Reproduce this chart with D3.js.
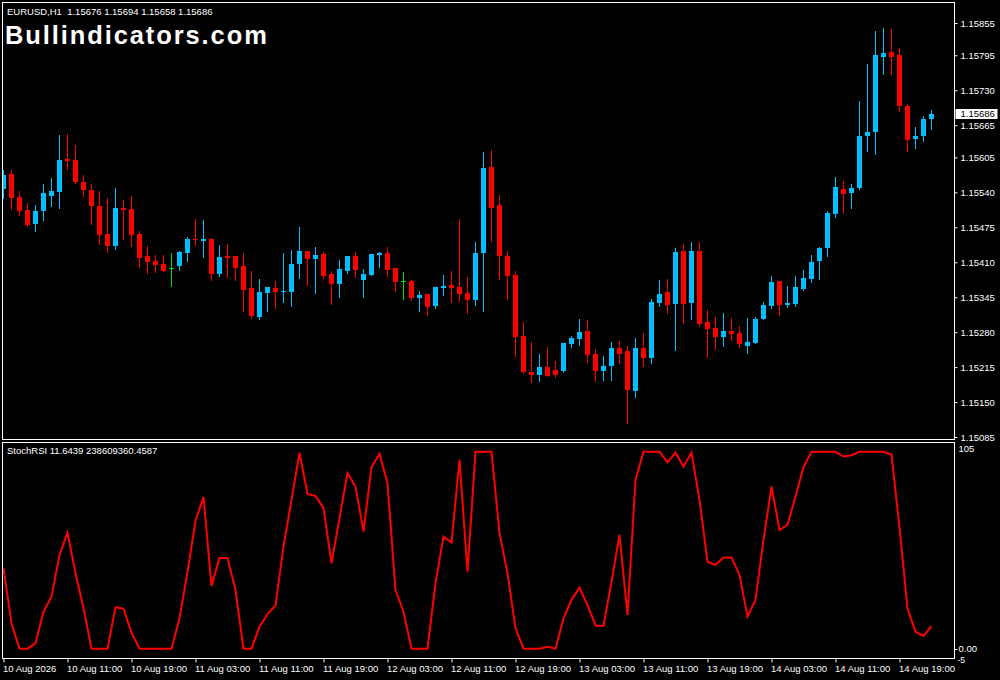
<!DOCTYPE html>
<html><head><meta charset="utf-8">
<script src="https://cdn.jsdelivr.net/npm/d3@7"></script>
<style>
html,body{margin:0;padding:0;background:#000;}
svg{display:block;}
text{font-family:"Liberation Sans",Arial,sans-serif;}
</style></head>
<body>
<script>
// ---- data (EURUSD H1, 117 bars) ----
const openP = [1.15547,1.15574,1.15532,1.15507,1.15482,1.15506,1.15533,1.15540,1.15602,1.15600,
1.15560,1.15545,1.15515,1.15463,1.15440,1.15511,1.15509,1.15463,1.15422,1.15413,
1.15407,1.15399,1.15403,1.15427,1.15453,1.15450,1.15453,1.15388,1.15422,1.15422,
1.15403,1.15362,1.15308,1.15353,1.15362,1.15355,1.15355,1.15407,1.15431,1.15416,
1.15426,1.15388,1.15370,1.15394,1.15422,1.15377,1.15387,1.15424,1.15427,1.15400,
1.15375,1.15375,1.15344,1.15351,1.15329,1.15362,1.15368,1.15364,1.15353,1.15340,
1.15427,1.15587,1.15517,1.15422,1.15387,1.15273,1.15206,1.15200,1.15215,1.15210,
1.15208,1.15258,1.15267,1.15282,1.15240,1.15208,1.15217,1.15251,1.15245,1.15171,
1.15251,1.15232,1.15334,1.15355,1.15333,1.15431,1.15334,1.15431,1.15299,1.15288,
1.15271,1.15282,1.15279,1.15254,1.15260,1.15305,1.15329,1.15375,1.15331,1.15333,
1.15360,1.15379,1.15413,1.15437,1.15500,1.15547,1.15539,1.15548,1.15645,1.15653,
1.15792,1.15801,1.15796,1.15701,1.15640,1.15645,1.15676];
const highP = [1.15582,1.15582,1.15543,1.15520,1.15517,1.15556,1.15566,1.15647,1.15649,1.15628,
1.15572,1.15556,1.15543,1.15530,1.15548,1.15526,1.15533,1.15468,1.15440,1.15424,
1.15424,1.15427,1.15431,1.15457,1.15491,1.15489,1.15455,1.15442,1.15444,1.15422,
1.15427,1.15394,1.15379,1.15364,1.15375,1.15427,1.15433,1.15476,1.15431,1.15439,
1.15429,1.15394,1.15414,1.15422,1.15429,1.15398,1.15426,1.15429,1.15439,1.15400,
1.15392,1.15377,1.15357,1.15351,1.15364,1.15387,1.15394,1.15491,1.15383,1.15448,
1.15615,1.15619,1.15535,1.15431,1.15394,1.15299,1.15262,1.15240,1.15253,1.15226,
1.15260,1.15273,1.15305,1.15303,1.15249,1.15236,1.15262,1.15264,1.15254,1.15269,
1.15279,1.15342,1.15377,1.15379,1.15437,1.15444,1.15448,1.15448,1.15321,1.15308,
1.15316,1.15307,1.15292,1.15307,1.15308,1.15336,1.15385,1.15375,1.15366,1.15385,
1.15396,1.15424,1.15439,1.15506,1.15569,1.15561,1.15556,1.15710,1.15779,1.15840,
1.15846,1.15844,1.15809,1.15705,1.15662,1.15682,1.15694];
const lowP = [1.15530,1.15509,1.15498,1.15478,1.15468,1.15489,1.15515,1.15510,1.15584,1.15557,
1.15533,1.15481,1.15444,1.15429,1.15435,1.15453,1.15440,1.15401,1.15390,1.15392,
1.15394,1.15366,1.15396,1.15413,1.15442,1.15420,1.15377,1.15385,1.15383,1.15377,
1.15320,1.15307,1.15305,1.15320,1.15325,1.15336,1.15329,1.15381,1.15368,1.15353,
1.15381,1.15333,1.15346,1.15390,1.15383,1.15346,1.15387,1.15401,1.15385,1.15357,
1.15342,1.15340,1.15320,1.15312,1.15325,1.15349,1.15336,1.15338,1.15316,1.15331,
1.15320,1.15450,1.15379,1.15342,1.15236,1.15204,1.15187,1.15189,1.15199,1.15197,
1.15206,1.15253,1.15256,1.15225,1.15189,1.15191,1.15191,1.15223,1.15111,1.15160,
1.15217,1.15223,1.15329,1.15316,1.15247,1.15297,1.15305,1.15292,1.15234,1.15249,
1.15254,1.15266,1.15253,1.15241,1.15260,1.15305,1.15325,1.15312,1.15327,1.15329,
1.15359,1.15373,1.15379,1.15422,1.15494,1.15502,1.15511,1.15547,1.15617,1.15612,
1.15760,1.15760,1.15692,1.15617,1.15623,1.15636,1.15658];
const closeP = [1.15572,1.15530,1.15506,1.15480,1.15506,1.15539,1.15543,1.15600,1.15599,1.15560,
1.15545,1.15515,1.15461,1.15440,1.15511,1.15507,1.15461,1.15418,1.15411,1.15405,
1.15394,1.15399,1.15429,1.15453,1.15452,1.15453,1.15388,1.15420,1.15418,1.15400,
1.15359,1.15310,1.15355,1.15364,1.15355,1.15357,1.15407,1.15431,1.15416,1.15424,
1.15385,1.15370,1.15398,1.15422,1.15396,1.15388,1.15426,1.15427,1.15396,1.15373,
1.15375,1.15344,1.15349,1.15327,1.15364,1.15366,1.15362,1.15351,1.15340,1.15427,
1.15585,1.15511,1.15422,1.15385,1.15271,1.15206,1.15200,1.15215,1.15199,1.15200,
1.15260,1.15269,1.15280,1.15238,1.15208,1.15217,1.15251,1.15240,1.15173,1.15251,
1.15232,1.15336,1.15351,1.15331,1.15429,1.15333,1.15431,1.15295,1.15286,1.15271,
1.15282,1.15277,1.15258,1.15262,1.15305,1.15331,1.15373,1.15331,1.15334,1.15364,
1.15381,1.15411,1.15437,1.15502,1.15550,1.15537,1.15548,1.15645,1.15653,1.15796,
1.15799,1.15792,1.15701,1.15638,1.15645,1.15677,1.15686];
const stochRSI = [40.9,12.9,0,0,2.7,18.8,26.4,47.6,59,38.3,
20.5,0,0,0,21,20.3,8.1,0,0,0,
0,0,15.4,39,65,77,31.9,46,46,29.8,
0,0,11.2,17.6,22,51.9,75.6,99.6,78.6,77.6,
71.4,43.4,66.3,89.2,82.4,59.5,92.2,99,84.1,29.8,
18.8,0,0,0,33.2,57,53.9,95.9,39.1,100,
100,100,58.7,38.3,10.4,0,0,0,1,0,
15.4,24.8,31,22.2,11.7,11.7,34,57.8,17.1,85.8,
100,100,100,94.6,99.6,92.5,99.6,75.6,44.2,42.6,
46.3,46.3,37.5,16.3,24.8,55.3,82.4,60.3,62.9,77.3,
92.2,100,100,100,100,97.6,98.3,100,100,100,
100,98.6,61.7,20.5,8.6,6.5,11.5];
const timeTickIdx = [0,8,16,24,32,40,48,56,64,72,80,88,96,104,112];
const timeLabels = ["10 Aug 2026","10 Aug 11:00","10 Aug 19:00","11 Aug 03:00","11 Aug 11:00","11 Aug 19:00",
"12 Aug 03:00","12 Aug 11:00","12 Aug 19:00","13 Aug 03:00","13 Aug 11:00","13 Aug 19:00",
"14 Aug 03:00","14 Aug 11:00","14 Aug 19:00"];
const priceTicks = [1.15855,1.15795,1.15730,1.15665,1.15605,1.15540,1.15475,1.15410,1.15345,1.15280,1.15215,1.15150,1.15085];
const lastPrice = 1.15686;
const titleText = "EURUSD,H1  1.15676 1.15694 1.15658 1.15686";
const indText = "StochRSI 11.6439 238609360.4587";
const brand = "Bullindicators.com";

// ---- layout ----
const W = 1000, H = 680;
const L = 2.5, R = 954.5, T1 = 2.5, B1 = 439.5, T2 = 442.5, B2 = 658.5;
const BULL = "#00BFFF", BEAR = "#FF0000", DOJI = "#00E000";

const svg = d3.select("body").append("svg").attr("width", W).attr("height", H);
svg.append("rect").attr("width", W).attr("height", H).attr("fill", "#000");

const defs = svg.append("defs");
defs.append("clipPath").attr("id","c1").append("rect").attr("x",L+0.5).attr("y",T1+0.5).attr("width",R-L-1).attr("height",B1-T1-1);
defs.append("clipPath").attr("id","c2").append("rect").attr("x",L+0.5).attr("y",T2+0.5).attr("width",R-L-1).attr("height",B2-T2-1);

const n = closeP.length;
const xS = d3.scaleLinear().domain([0, n-1]).range([3.5, 3.5 + 8*(n-1)]);
const yP = d3.scaleLinear().domain([1.15085, 1.15855]).range([437, 23]);
const yR = d3.scaleLinear().domain([-5, 105]).range([658.5, 442]);

const idx = d3.range(n);
const gC = svg.append("g").attr("clip-path","url(#c1)");
const col = i => closeP[i] > openP[i] ? BULL : (closeP[i] < openP[i] ? BEAR : DOJI);
gC.selectAll("line.w").data(idx).join("line").attr("class","w")
  .attr("x1", i => xS(i)).attr("x2", i => xS(i))
  .attr("y1", i => Math.round(yP(highP[i]))).attr("y2", i => Math.round(yP(lowP[i])) + 1)
  .attr("stroke", col).attr("stroke-width", 1);
gC.selectAll("rect.b").data(idx).join("rect").attr("class","b")
  .attr("x", i => xS(i) - 2.5).attr("width", 5)
  .attr("y", i => Math.round(yP(Math.max(openP[i], closeP[i]))))
  .attr("height", i => Math.max(1, Math.round(yP(Math.min(openP[i], closeP[i]))) - Math.round(yP(Math.max(openP[i], closeP[i])))))
  .attr("fill", col).attr("shape-rendering","crispEdges");

// stoch line
svg.append("g").attr("clip-path","url(#c2)").append("path")
  .datum(stochRSI)
  .attr("d", d3.line().x((d,i) => xS(i)).y(d => yR(d)))
  .attr("fill","none").attr("stroke","#FF0000").attr("stroke-width",2).attr("stroke-linejoin","miter");

// frames
const frame = svg.append("g").attr("fill","none").attr("stroke","#fff").attr("stroke-width",1).attr("shape-rendering","crispEdges");
frame.append("rect").attr("x",L).attr("y",T1).attr("width",R-L).attr("height",B1-T1);
frame.append("rect").attr("x",L).attr("y",T2).attr("width",R-L).attr("height",B2-T2);

// price axis
const fontSz = "9.5px";
const ay = svg.append("g").attr("transform",`translate(${R},0)`)
  .call(d3.axisRight(yP).tickValues(priceTicks).tickSize(3).tickSizeOuter(0).tickFormat(d3.format(".5f")));
ay.select(".domain").remove();
ay.selectAll("line").attr("stroke","#fff");
ay.selectAll("text").attr("fill","#fff").style("font-size",fontSz).style("font-family","Liberation Sans, Arial, sans-serif");

// current price label
const cy = yP(lastPrice);
svg.append("rect").attr("x",R+1).attr("y",Math.round(cy)-5).attr("width",42).attr("height",10).attr("fill","#fff");
svg.append("text").attr("x",R+6).attr("y",cy+3.5).attr("fill","#000").style("font-size",fontSz).text(d3.format(".5f")(lastPrice));

// indicator axis labels
const ind = svg.append("g").attr("fill","#fff").style("font-size",fontSz);
ind.append("text").attr("x",R+4).attr("y",yR(105)+10).text("105");
ind.append("text").attr("x",R+4).attr("y",yR(0)+3.5).text("0.00");
ind.append("text").attr("x",R+3).attr("y",yR(-5)+4).style("font-size","8.5px").text("-5");
svg.append("line").attr("x1",R).attr("x2",R+3).attr("y1",Math.round(yR(0))+0.5).attr("y2",Math.round(yR(0))+0.5).attr("stroke","#fff");

// time axis
const ax = svg.append("g").attr("transform",`translate(0,${B2})`)
  .call(d3.axisBottom(xS).tickValues(timeTickIdx).tickSize(4).tickSizeOuter(0).tickFormat((d,i) => timeLabels[i]));
ax.select(".domain").remove();
ax.selectAll("line").attr("stroke","#fff");
ax.selectAll("text").attr("fill","#fff").attr("text-anchor","start").attr("x",-1)
  .style("font-size",fontSz).style("font-family","Liberation Sans, Arial, sans-serif");

// titles
svg.append("text").attr("x",7).attr("y",15).attr("fill","#fff").style("font-size",fontSz).style("white-space","pre").text(titleText);
svg.append("text").attr("x",7).attr("y",454).attr("fill","#fff").style("font-size",fontSz).text(indText);
svg.append("text").attr("x",5).attr("y",43.5).attr("fill","#fff")
  .style("font-size","25.5px").style("font-weight","bold").style("letter-spacing","1.9px").text(brand);
</script>
</body></html>
